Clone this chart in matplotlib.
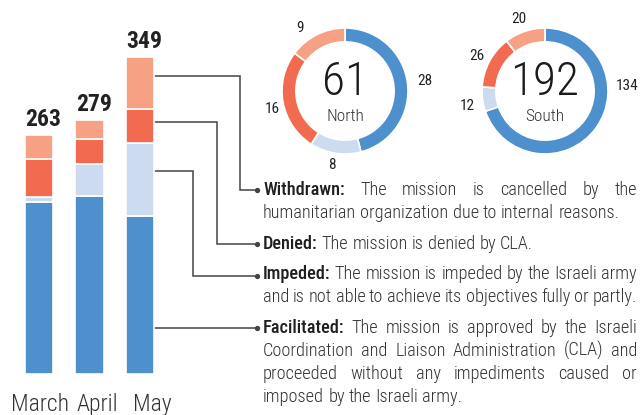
import matplotlib
matplotlib.use("Agg")
import matplotlib.pyplot as plt
from matplotlib import font_manager as fm

# ---------------- data ----------------
months = ["March", "April", "May"]
totals = [263, 279, 349]
facilitated = [189, 196, 174]
impeded = [6, 35, 80]
denied = [42, 27, 38]
withdrawn = [26, 21, 57]

regions = ["North", "South"]
region_totals = [61, 192]
north_values = [28, 8, 16, 9]      # facilitated, impeded, denied, withdrawn
south_values = [134, 12, 26, 20]

categories = ["Facilitated", "Impeded", "Denied", "Withdrawn"]
colors = ["#4d90cd", "#cddbf0", "#f26a50", "#f6a084"]

legend_lines = {
    "Withdrawn": [["Withdrawn:", "The mission is cancelled by the"],
                  ["humanitarian organization due to internal reasons."]],
    "Denied": [["Denied:", "The mission is denied by CLA."]],
    "Impeded": [["Impeded:", "The mission is impeded by the Israeli army"],
                ["and is not able to achieve its objectives fully or partly."]],
    "Facilitated": [["Facilitated:", "The mission is approved by the Israeli"],
                    ["Coordination and Liaison Administration (CLA) and"],
                    ["proceeded without any impediments caused or"],
                    ["imposed by the Israeli army."]],
}

# ---------------- fonts ----------------
names = {f.name for f in fm.fontManager.ttflist}
if "Roboto Condensed" in names:
    FAM = "Roboto Condensed"
elif "Liberation Sans Narrow" in names:
    FAM = "Liberation Sans Narrow"
else:
    FAM = "Roboto"
plt.rcParams["font.family"] = [FAM, "DejaVu Sans"]

BODY_W = 300
TERM_W = 500

W, H = 640, 415
fig = plt.figure(figsize=(W / 100, H / 100), dpi=100)
renderer = fig.canvas.get_renderer()

def px_axes(left, top, width, height):
    return fig.add_axes([left / W, (H - top - height) / H, width / W, height / H])

# overlay in pixel coordinates
ov = px_axes(0, 0, W, H)
ov.set_xlim(0, W)
ov.set_ylim(H, 0)
ov.axis("off")
ov.set_zorder(-1)

def measure(s, size, weight="normal"):
    t = ov.text(0, 0, s, fontsize=size, fontweight=weight)
    w = t.get_window_extent(renderer).width
    t.remove()
    return w

# ---------------- bars ----------------
PX_PER_UNIT = 0.909
BAR_BOTTOM = 374
X0, DX = 39, 50.5
YMAX = 400
axb = px_axes(X0 - DX / 2, BAR_BOTTOM - YMAX * PX_PER_UNIT, 3 * DX, YMAX * PX_PER_UNIT)
axb.set_xlim(-0.5, 2.5)
axb.set_ylim(0, YMAX)
axb.axis("off")
axb.patch.set_alpha(0)
xs = list(range(len(months)))
bottom = [0] * 3
series = [facilitated, impeded, denied, withdrawn]
for vals, c in zip(series, colors):
    axb.bar(xs, vals, bottom=bottom, width=0.555, color=c, edgecolor="white", linewidth=1.2)
    bottom = [b + v for b, v in zip(bottom, vals)]
for i, t in enumerate(totals):
    axb.text(i + 0.09, t + 10, str(t), ha="center", va="baseline", fontsize=17,
             fontweight="bold", color="#222222", clip_on=False)
month_dx = [0.02, 0.16, 0.24]
for i, m in enumerate(months):
    axb.text(i + month_dx[i], -41, m, ha="center", va="baseline", fontsize=17,
             fontweight=BODY_W, color="#333333", clip_on=False)

# ---------------- donuts ----------------
R = 63
L = 1.6
centers = [(345, 91), (545, 91)]
label_pos = [
    [(1.27, 0.16), (-0.21, -1.17), (-1.16, -0.29), (-0.71, 1.0)],
    [(1.30, 0.08), (-1.24, -0.24), (-1.08, 0.56), (-0.41, 1.14)],
]
for k, (vals, name, tot) in enumerate(zip([north_values, south_values], regions, region_totals)):
    cx, cy = centers[k]
    axp = px_axes(cx - L * R, cy - L * R, 2 * L * R, 2 * L * R)
    axp.pie(vals, colors=colors, startangle=90, counterclock=False, radius=1,
            wedgeprops=dict(width=0.22, edgecolor="white", linewidth=1.2))
    axp.set_xlim(-L, L)
    axp.set_ylim(-L, L)
    axp.set_aspect("equal")
    axp.axis("off")
    for v, (lx, ly) in zip(vals, label_pos[k]):
        axp.text(lx, ly, str(v), ha="center", va="center", fontsize=11, color="#222222")
    axp.text(0, 0.14, str(tot), ha="center", va="center", fontsize=34,
             fontweight=BODY_W, color="#1a1a1a")
    axp.text(0, -0.40, name, ha="center", va="center", fontsize=12.5,
             fontweight=BODY_W, color="#333333")

# ---------------- legend text (justified) ----------------
TL, TR = 263, 637
ref_line = "humanitarian organization due to internal reasons."
fs = 12 * (620 - TL) / measure(ref_line, 12, BODY_W)
space_w = measure("a a", fs, BODY_W) - measure("aa", fs, BODY_W)
para_y = {"Withdrawn": 190, "Denied": 244, "Impeded": 274, "Facilitated": 328}
LINE_H = 23
for cat in ["Withdrawn", "Denied", "Impeded", "Facilitated"]:
    lines = legend_lines[cat]
    y0 = para_y[cat]
    for li, parts in enumerate(lines):
        words = []
        for pi, part in enumerate(parts):
            bold = (li == 0 and pi == 0)
            for w in part.split():
                words.append((w, TERM_W if bold else BODY_W))
        widths = [measure(w, fs, wt) for w, wt in words]
        natural = sum(widths) + space_w * (len(words) - 1)
        last = li == len(lines) - 1
        if (not last or natural > 0.97 * (TR - TL)) and len(words) > 1:
            gap = (TR - TL - sum(widths)) / (len(words) - 1)
        else:
            gap = space_w
        x = TL
        y = y0 + li * LINE_H + 4.5
        for (w, wt), wd in zip(words, widths):
            ov.text(x, y, w, fontsize=fs, fontweight=wt, ha="left", va="baseline",
                    color="#1f1f1f" if wt == TERM_W else "#333333")
            x += wd + gap

# ---------------- connectors ----------------
def bar_point(i, y_units):
    disp = axb.transData.transform((i + 0.555 / 2, y_units))
    return ov.transData.inverted().transform(disp)

may = 2
seg_bottoms = {}
acc = 0
for cat, vals in zip(categories, series):
    seg_bottoms[cat] = (acc, vals[may])
    acc += vals[may]
DOT_X = 257
lc = "#444444"
turn_x = {"Withdrawn": 240, "Denied": 217, "Impeded": 193}
for cat in ["Withdrawn", "Denied", "Impeded"]:
    b, h = seg_bottoms[cat]
    sx, sy = bar_point(may, b + 0.62 * h)
    ty = para_y[cat] + (2 if cat == "Impeded" else 0)
    ov.plot([sx + 1, turn_x[cat], turn_x[cat], DOT_X], [sy, sy, ty, ty], color=lc, lw=1.1,
            solid_joinstyle="miter")
    ov.plot([DOT_X], [ty], "o", color=lc, ms=2.8)
ty = para_y["Facilitated"]
sx, _ = bar_point(may, 0)
ov.plot([sx + 1, DOT_X], [ty, ty], color=lc, lw=1.1)
ov.plot([DOT_X], [ty], "o", color=lc, ms=2.8)

fig.savefig("out.png", dpi=100)
